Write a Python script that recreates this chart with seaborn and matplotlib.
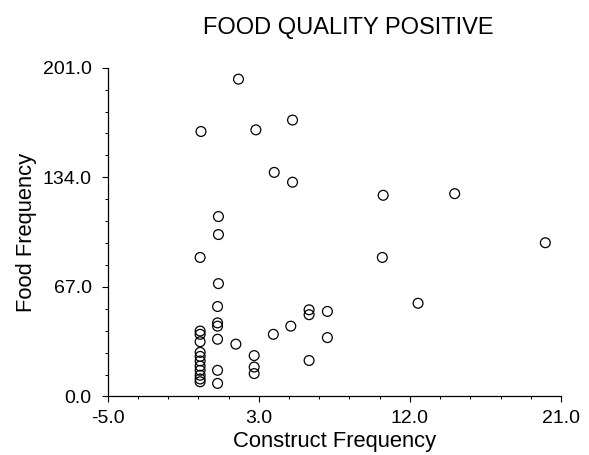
import numpy as np
import pandas as pd
import seaborn as sns
import matplotlib
matplotlib.use("Agg")
import matplotlib.pyplot as plt
from matplotlib.ticker import FixedLocator

# Construct frequency (x) and food frequency (y) for each item
construct_freq = [
    2.5, 0.35, 3.5, 5.6, 4.55, 5.6, 10.8, 14.9,
    1.35, 1.35, 20.1, 0.3, 10.75, 1.35, 1.3, 1.3, 1.3, 1.3, 1.3, 1.3,
    2.35, 3.4, 3.4, 3.4, 4.5, 5.5, 6.55, 6.55, 7.6, 7.6, 6.55, 12.8,
    0.3, 0.3, 0.3, 0.3, 0.3, 0.3, 0.3, 0.3, 0.3, 0.3, 0.3,
]
food_freq = [
    194, 162, 163, 169, 137, 131, 123, 124,
    110, 99, 94, 85, 85, 69, 55, 45, 43, 35, 16, 8,
    32, 25, 18, 14, 38, 43, 53, 50, 52, 36, 22, 57,
    40, 38, 33.5, 27, 24.5, 21.7, 18.6, 16, 13, 10.7, 9,
]

x_tick_labels = ["-5.0", "3.0", "12.0", "21.0"]
y_tick_labels = ["0.0", "67.0", "134.0", "201.0"]

title = "FOOD QUALITY POSITIVE"
x_title = "Construct Frequency"
y_title = "Food Frequency"

df = pd.DataFrame({"construct": construct_freq, "food": food_freq})

sns.set_theme(style="ticks")
plt.rcParams["font.family"] = ["Liberation Sans", "DejaVu Sans"]
plt.rcParams["text.color"] = "black"
plt.rcParams["axes.labelcolor"] = "black"
plt.rcParams["xtick.color"] = "black"
plt.rcParams["ytick.color"] = "black"

fig = plt.figure(figsize=(5.89, 4.55), dpi=100)
ax = fig.add_axes([0.1829, 0.1286, 0.9525 - 0.1829, 0.8512 - 0.1286])

sns.scatterplot(
    data=df, x="construct", y="food", ax=ax,
    marker="o", s=50, facecolor="none", edgecolor="black",
    linewidth=0.9, legend=False,
)

x_min, x_max = -5.0, 21.0
y_min, y_max = 0.0, 201.0
ax.set_xlim(x_min, x_max)
ax.set_ylim(y_min, y_max)

x_major = np.linspace(x_min, x_max, 4)
y_major = np.linspace(y_min, y_max, 4)
ax.xaxis.set_major_locator(FixedLocator(x_major))
ax.yaxis.set_major_locator(FixedLocator(y_major))
ax.xaxis.set_minor_locator(FixedLocator(np.linspace(x_min, x_max, 16)))
ax.yaxis.set_minor_locator(FixedLocator(np.linspace(y_min, y_max, 16)))
ax.set_xticklabels(x_tick_labels)
ax.set_yticklabels(y_tick_labels)

ax.tick_params(axis="both", which="major", direction="out", length=4.5,
               width=0.8, labelsize=14, pad=5)
ax.tick_params(axis="both", which="minor", direction="out", length=2.5,
               width=0.7)
ax.tick_params(axis="y", which="major", pad=7)

for side in ("top", "right"):
    ax.spines[side].set_visible(False)
for side in ("left", "bottom"):
    ax.spines[side].set_color("black")
    ax.spines[side].set_linewidth(0.9)

ax.set_xlabel(x_title, fontsize=15.8, labelpad=3)
ax.set_ylabel(y_title, fontsize=15.8, labelpad=4)
ax.set_title(title, fontsize=17, x=0.53, pad=24)

fig.savefig("out.png", dpi=100, facecolor="white")
